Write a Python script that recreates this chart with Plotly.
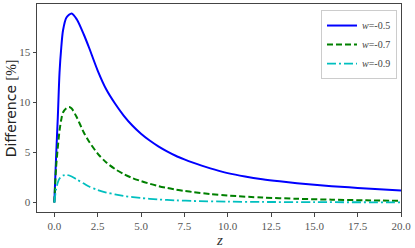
import plotly.graph_objects as go

z_blue = [0, 0.1, 0.2, 0.3, 0.4, 0.5, 0.7, 1.0, 1.3, 1.7, 2.0, 2.5, 3.0, 3.5, 4.0, 4.5, 5.0,
          5.5, 6.0, 6.5, 7.0, 7.5, 8.0, 8.5, 9.0, 9.5, 10, 11, 12, 13, 14, 15, 16, 17, 18, 19, 20]
v_blue = [0, 4.5, 8.5, 13.0, 15.5, 17.2, 18.5, 18.9, 18.3, 16.8, 15.5, 13.2, 11.3, 9.9, 8.7, 7.7, 6.88,
          6.2, 5.62, 5.12, 4.68, 4.32, 3.99, 3.69, 3.42, 3.17, 2.94, 2.6, 2.33, 2.12, 1.94, 1.78, 1.64,
          1.52, 1.41, 1.3, 1.2]

z_green = [0, 0.1, 0.2, 0.3, 0.4, 0.5, 0.7, 0.85, 1.0, 1.3, 1.7, 2.0, 2.5, 3.0, 3.5, 4.0, 4.5, 5.0,
           5.5, 6.0, 6.5, 7.0, 7.5, 8.0, 9.0, 10, 12, 14, 16, 18, 20]
v_green = [0, 3.5, 5.5, 7.2, 8.3, 9.0, 9.45, 9.55, 9.4, 8.5, 7.0, 6.1, 4.9, 4.0, 3.35, 2.85, 2.45, 2.15,
           1.88, 1.65, 1.46, 1.3, 1.16, 1.05, 0.85, 0.7, 0.5, 0.38, 0.29, 0.22, 0.17]

z_cyan = [0, 0.1, 0.2, 0.3, 0.5, 0.7, 1.0, 1.3, 1.7, 2.0, 2.5, 3.0, 3.5, 4.0, 5.0, 6.0, 7.0, 8.0,
          10, 12, 15, 20]
v_cyan = [0, 1.3, 2.0, 2.4, 2.7, 2.77, 2.6, 2.3, 1.9, 1.6, 1.25, 1.0, 0.82, 0.66, 0.45, 0.31, 0.22, 0.16,
          0.09, 0.06, 0.04, 0.02]

names = ["<i>w</i>=-0.5", "<i>w</i>=-0.7", "<i>w</i>=-0.9"]
x_ticks = [0, 2.5, 5, 7.5, 10, 12.5, 15, 17.5, 20]
x_tick_labels = ["0.0", "2.5", "5.0", "7.5", "10.0", "12.5", "15.0", "17.5", "20.0"]
y_ticks = [0, 5, 10, 15]
y_tick_labels = ["0", "5", "10", "15"]

serif = "Liberation Serif"

fig = go.Figure()
fig.add_trace(go.Scatter(x=z_blue, y=v_blue, name=names[0], mode="lines",
                         line=dict(color="#0000ff", width=2, shape="spline", smoothing=0.8)))
fig.add_trace(go.Scatter(x=z_green, y=v_green, name=names[1], mode="lines",
                         line=dict(color="#008000", width=2, dash="6px,3px", shape="spline", smoothing=0.8)))
fig.add_trace(go.Scatter(x=z_cyan, y=v_cyan, name=names[2], mode="lines",
                         line=dict(color="#00bfbf", width=1.8, dash="9px,3px,2px,3px", shape="spline", smoothing=0.8)))

axis_common = dict(showgrid=False, zeroline=False, showline=True, linecolor="#444444", linewidth=1,
                   mirror=True, ticks="outside", ticklen=3.5, tickcolor="#444444", automargin=False,
                   tickfont=dict(family=serif, size=11, color="#555555"))

fig.update_layout(
    width=415, height=248,
    margin=dict(l=37, r=14, t=4, b=36),
    plot_bgcolor="white", paper_bgcolor="white",
    xaxis=dict(range=[-1, 20], tickvals=x_ticks, ticktext=x_tick_labels, **axis_common),
    yaxis=dict(range=[-0.945, 19.85], tickvals=y_ticks, ticktext=y_tick_labels, **axis_common),
    legend=dict(x=0.989, y=0.971, xanchor="right", yanchor="top",
                bgcolor="white", bordercolor="#cccccc", borderwidth=1,
                font=dict(family=serif, size=10, color="#444444"),
                itemwidth=30, tracegroupgap=0),
    showlegend=True,
    annotations=[
        dict(text="<i>z</i>", x=0.5, y=-0.135, xref="paper", yref="paper", yanchor="middle",
             showarrow=False, font=dict(family=serif, size=15, color="#333333")),
        dict(text="Difference <span style='font-family:Liberation Serif'>[%]</span>",
             x=-0.071, y=0.5, xref="paper", yref="paper", textangle=-90, xanchor="center",
             yanchor="middle", showarrow=False, font=dict(family="DejaVu Sans", size=14, color="#222222")),
    ],
)

fig.write_html("out.html", config={"displayModeBar": False},
               post_script="document.body.style.margin='0';")
